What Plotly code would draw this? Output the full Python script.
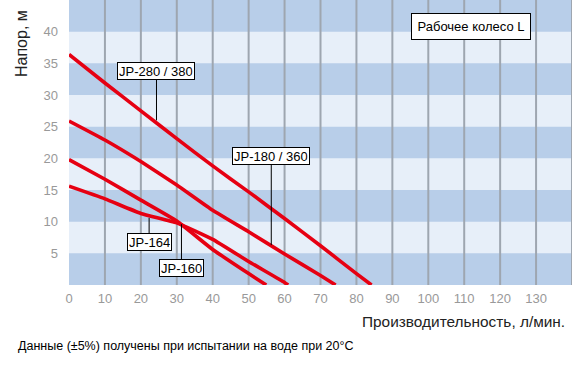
import plotly.graph_objects as go

# ---- data ----
series_names = ["JP-280 / 380", "JP-180 / 360", "JP-164", "JP-160"]

jp280_x = [0, 10, 20, 30, 40, 50, 60, 70, 80, 84.2]
jp280_y = [36.4, 31.9, 27.5, 23.1, 18.8, 14.7, 10.5, 6.2, 1.8, 0]

jp180_x = [0, 10, 20, 30, 40, 50, 60, 70, 74.2]
jp180_y = [25.9, 22.9, 19.5, 15.8, 11.8, 8.4, 4.9, 1.5, 0]

jp164_x = [0, 10, 20, 30, 40, 50, 60, 61.0]
jp164_y = [15.6, 13.6, 11.3, 9.8, 7.2, 3.7, 0.4, 0]

jp160_x = [0, 10, 20, 30, 40, 50, 54.9]
jp160_y = [19.8, 16.7, 13.4, 10.1, 5.6, 1.8, 0]

x_ticks = [0, 10, 20, 30, 40, 50, 60, 70, 80, 90, 100, 110, 120, 130]
x_grid = [10, 20, 30, 40, 50, 60, 70, 80, 90, 100, 110, 120, 130, 140]
y_ticks = [5, 10, 15, 20, 25, 30, 35, 40]
y_bands = [(0, 5), (10, 15), (20, 25), (30, 35), (40, 45)]

x_title = "Производительность, л/мин."
y_title = "Напор, м"
footnote = "Данные (±5%) получены при испытании на воде при 20°C"
impeller = "Рабочее колесо L"

# ---- figure ----
RED = "#e60012"
FONT = "Liberation Sans, Arial, sans-serif"

fig = go.Figure()
for name, xs, ys in [
    (series_names[0], jp280_x, jp280_y),
    (series_names[1], jp180_x, jp180_y),
    (series_names[2], jp164_x, jp164_y),
    (series_names[3], jp160_x, jp160_y),
]:
    fig.add_trace(go.Scatter(x=xs, y=ys, mode="lines", name=name,
                             line=dict(color=RED, width=3.6, shape="spline", smoothing=0.4),
                             showlegend=False, hoverinfo="skip"))

shapes = []
for y0, y1 in y_bands:
    shapes.append(dict(type="rect", xref="x", yref="y", x0=0, x1=140, y0=y0, y1=y1,
                       fillcolor="#b8cee9", line=dict(width=0), layer="below"))
for gx in x_grid:
    shapes.append(dict(type="line", xref="x", yref="y", x0=gx, x1=gx, y0=0, y1=45,
                       line=dict(color="#9ea6b0", width=2), layer="below"))

label_font = dict(family=FONT, size=13, color="#000")
annotations = []
# curve labels: (text, head x, head y, ay offset)
for text, hx, hy, ay in [
    (series_names[0], 24.35, 26.0, -49),
    (series_names[1], 56.3, 6.3, -89),
    (series_names[2], 22.3, 10.6, 24.5),
    (series_names[3], 31.3, 9.6, 44),
]:
    annotations.append(dict(x=hx, y=hy, xref="x", yref="y", text=text, showarrow=True,
                            arrowhead=0, arrowwidth=1, arrowcolor="#000", ax=0, ay=ay,
                            standoff=0, startstandoff=0, bgcolor="#fff", bordercolor="#000",
                            borderwidth=1, borderpad=1, height=14, font=label_font))

annotations.append(dict(x=111.9, y=40.8, xref="x", yref="y", text=impeller, showarrow=False,
                        bgcolor="#fff", bordercolor="#000", borderwidth=1, borderpad=1,
                        width=116, height=23, font=label_font))
annotations.append(dict(x=-0.0954, y=0.8456, xref="paper", yref="paper", text=y_title,
                        textangle=-90, showarrow=False, xanchor="center", yanchor="middle",
                        font=dict(family=FONT, size=16, color="#222")))
annotations.append(dict(x=0.990, y=-0.1288, xref="paper", yref="paper", text=x_title,
                        showarrow=False, xanchor="right", yanchor="middle",
                        font=dict(family=FONT, size=15.4, color="#222")))
annotations.append(dict(x=-0.1054, y=-0.214, xref="paper", yref="paper", text=footnote,
                        showarrow=False, xanchor="left", yanchor="middle",
                        font=dict(family=FONT, size=12.5, color="#000")))

fig.update_layout(
    width=574, height=368,
    margin=dict(l=69, r=2, t=0, b=83),
    paper_bgcolor="#fff", plot_bgcolor="#e7eff9",
    shapes=shapes, annotations=annotations,
    xaxis=dict(range=[0, 140], tickvals=x_ticks, showgrid=False, zeroline=False,
               showline=False, ticks="", ticklabelstandoff=4,
               tickfont=dict(family=FONT, size=13, color="#999")),
    yaxis=dict(range=[0, 45], tickvals=y_ticks, showgrid=False, zeroline=False,
               showline=False, ticks="", ticklabelstandoff=10,
               tickfont=dict(family=FONT, size=13, color="#999")),
)

fig.write_html("out.html", config={"displayModeBar": False},
               post_script="document.body.style.margin='0';document.body.style.overflow='hidden';")
